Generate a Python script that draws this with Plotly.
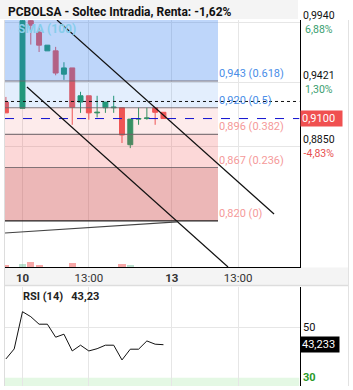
import plotly.graph_objects as go

# ---------------- data ----------------
slots  = [0, 2, 3, 4, 5, 6, 7, 8, 9, 10, 11, 12, 13, 14, 15, 16, 17, 18, 19]
opens  = [0.9245, 0.9190, 0.9960, 0.9860, 0.9695, 0.9695, 0.9490, 0.9545, 0.9245, 0.9300,
          0.9150, 0.9195, 0.9195, 0.9195, 0.8870, 0.9095, 0.9100, 0.9195, 0.9155]
highs  = [0.9290, 0.9980, 0.9966, 0.9895, 0.9745, 0.9730, 0.9595, 0.9545, 0.9335, 0.9300,
          0.9300, 0.9245, 0.9300, 0.9195, 0.9095, 0.9195, 0.9195, 0.9195, 0.9155]
lows   = [0.9150, 0.9190, 0.9750, 0.9685, 0.9695, 0.9480, 0.9440, 0.9045, 0.9150, 0.9090,
          0.9110, 0.9150, 0.9150, 0.8885, 0.8840, 0.9045, 0.9090, 0.9045, 0.9100]
closes = [0.9150, 0.9960, 0.9920, 0.9745, 0.9745, 0.9500, 0.9545, 0.9200, 0.9300, 0.9150,
          0.9155, 0.9245, 0.9200, 0.8955, 0.9095, 0.9100, 0.9105, 0.9155, 0.9100]
volumes = [30, 48, 80, 28, 2, 4, 3, 64, 3, 3, 1, 2, 1, 50, 32, 2, 1, 4, 6]

rsi_slots = list(range(0, 20))
rsi_values = [37.5, 41.5, 56.4, 54.4, 51.4, 51.4, 46.2, 47.4, 40.7, 43.0,
              40.7, 41.6, 43.0, 43.0, 37.1, 41.4, 41.4, 44.7, 43.4, 43.2]

x_tick_slots = [2, 10, 20, 28]
x_tick_labels = ["<b>10</b>", "13:00", "<b>13</b>", "13:00"]

price_levels = [0.9940, 0.9421, 0.8850]
price_labels = ["0,9940", "0,9421", "0,8850"]
pct_labels = ["6,88%", "1,30%", "-4,83%"]

last_price = 0.9100
last_label = "0,9100"
prev_close = 0.9250

fib_low, fib_high = 0.8200, 1.0190
fib_ratios = [1.0, 0.618, 0.5, 0.382, 0.236, 0.0]
fib_labels = ["", "0,943 (0.618)", "0,920 (0.5)", "0,896 (0.382)", "0,867 (0.236)", "0,820 (0)"]
fib_end_slot = 25.58

channel_upper = ([6.16, 32.34], [0.9966, 0.8261])
channel_lower = ([2.54, 26.79], [0.9377, 0.7795])
support_line = ([-0.11, 20.64], [0.8094, 0.8191])

rsi_last = 43.233
rsi_levels = [50, 30]

# ---------------- layout helpers ----------------
W, H = 353, 390
def px(x):
    return x / W
def py(y):
    return 1 - y / H

x_range = [-0.11, 35.41]
y_range = [0.77951, 0.99662]
rsi_range = [26.68, 66.28]

GREEN = "#239b69"
RED = "#f05858"
FONT = "Roboto"

fig = go.Figure()

# volume
vol_colors = ["rgba(60,170,120,0.35)" if c >= o else "rgba(240,80,80,0.5)" for o, c in zip(opens, closes)]
fig.add_trace(go.Bar(x=slots, y=volumes, marker=dict(color=vol_colors, line=dict(width=0)),
                     width=0.85, yaxis="y3", xaxis="x", hoverinfo="skip", showlegend=False))

fig.add_trace(go.Candlestick(
    x=slots, open=opens, high=highs, low=lows, close=closes,
    increasing=dict(line=dict(color=GREEN, width=1), fillcolor=GREEN),
    decreasing=dict(line=dict(color=RED, width=1), fillcolor=RED),
    whiskerwidth=0, xaxis="x", yaxis="y", showlegend=False, hoverinfo="skip"))

fig.add_trace(go.Scatter(x=rsi_slots, y=rsi_values, mode="lines",
                         line=dict(color="#111111", width=1), xaxis="x2", yaxis="y2",
                         showlegend=False, hoverinfo="skip"))

shapes = []
# background bands
shapes.append(dict(type="rect", xref="paper", yref="paper", x0=0, x1=px(298), y0=py(19), y1=1,
                   fillcolor="#f4f4f4", line=dict(width=0), layer="below"))
shapes.append(dict(type="rect", xref="paper", yref="paper", x0=px(5), x1=px(349), y0=py(285), y1=py(267.5),
                   fillcolor="#f4f4f4", line=dict(width=0), layer="below"))
shapes.append(dict(type="line", xref="paper", yref="paper", x0=px(5), x1=px(349), y0=py(285.5), y1=py(285.5),
                   line=dict(color="#dddddd", width=1.5)))
# RSI oversold band
shapes.append(dict(type="rect", xref="x2", yref="y2", x0=x_range[0], x1=x_range[1], y0=rsi_range[0], y1=30,
                   fillcolor="#e4f8e4", line=dict(width=0), layer="below"))

# fib overlay bands
fib_prices = [fib_low + r * (fib_high - fib_low) for r in fib_ratios]
band_fills = ["rgba(40,120,240,0.30)", "rgba(40,120,240,0.13)", "rgba(240,60,60,0.10)",
              "rgba(240,60,60,0.20)", "rgba(200,50,50,0.35)"]
for i, fc in enumerate(band_fills):
    shapes.append(dict(type="rect", xref="x", yref="y", x0=x_range[0], x1=fib_end_slot,
                       y0=fib_prices[i + 1], y1=fib_prices[i], fillcolor=fc,
                       line=dict(width=0), layer="above"))
for i in range(1, len(fib_prices)):
    col = "#222222" if fib_ratios[i] == 0 else "rgba(110,100,105,0.85)"
    shapes.append(dict(type="line", xref="x", yref="y", x0=x_range[0], x1=fib_end_slot,
                       y0=fib_prices[i], y1=fib_prices[i], line=dict(color=col, width=1.2), layer="above"))

# previous close dotted and last price dashed
shapes.append(dict(type="line", xref="x", yref="y", x0=x_range[0], x1=x_range[1], y0=prev_close, y1=prev_close,
                   line=dict(color="#111111", width=1, dash="dot"), layer="above"))
shapes.append(dict(type="line", xref="x", yref="y", x0=x_range[0], x1=x_range[1], y0=last_price, y1=last_price,
                   line=dict(color="#1010d0", width=1, dash="dash"), layer="above"))

# trend lines
for (xs, ys), col in [(channel_upper, "#111111"), (channel_lower, "#111111"), (support_line, "#444444")]:
    shapes.append(dict(type="line", xref="x", yref="y", x0=xs[0], x1=xs[1], y0=ys[0], y1=ys[1],
                       line=dict(color=col, width=1.2), layer="above"))

# borders
shapes.append(dict(type="line", xref="paper", yref="paper", x0=px(4.5), x1=px(4.5), y0=py(386), y1=py(20),
                   line=dict(color="#dddddd", width=1)))
shapes.append(dict(type="line", xref="paper", yref="paper", x0=px(348.5), x1=px(348.5), y0=py(386), y1=py(20),
                   line=dict(color="#e2e2e2", width=1)))

annotations = []
annotations.append(dict(xref="paper", yref="paper", x=px(6), y=py(12), xanchor="left", yanchor="middle",
                        text="<b>PCBOLSA - Soltec Intradia, Renta: -1,62%</b>", showarrow=False,
                        font=dict(family=FONT, size=12, color="#111111")))
annotations.append(dict(xref="paper", yref="paper", x=px(47), y=py(29), xanchor="center", yanchor="middle",
                        text="<b>SMA (100)</b>", showarrow=False,
                        font=dict(family=FONT, size=12, color="#86cdea")))
for i in range(1, len(fib_prices)):
    col = "#4a8ee8" if fib_ratios[i] >= 0.5 else "#f59a9a"
    annotations.append(dict(xref="x", yref="y", x=fib_end_slot, y=fib_prices[i], xanchor="left", yanchor="bottom",
                            text=fib_labels[i], showarrow=False, xshift=-1, yshift=-1,
                            font=dict(family=FONT, size=11, color=col)))
for lvl, lab, pct in zip(price_levels, price_labels, pct_labels):
    pcol = "#e85050" if pct.startswith("-") else "#3a9e70"
    annotations.append(dict(xref="paper", yref="y", x=px(301), y=lvl, xanchor="left", yanchor="middle",
                            text=f"{lab}<br><span style='color:{pcol}'>{pct}</span>", showarrow=False,
                            font=dict(family=FONT, size=10.5, color="#111111")))
annotations.append(dict(xref="paper", yref="y", x=px(300), y=last_price, xanchor="left", yanchor="middle",
                        text=last_label + "&nbsp;&nbsp;", showarrow=False, bgcolor="#f05050", borderpad=1,
                        font=dict(family=FONT, size=11, color="white")))
annotations.append(dict(xref="paper", yref="paper", x=px(21), y=py(296), xanchor="left", yanchor="middle",
                        text="<b>RSI (14)</b>&nbsp;&nbsp;&nbsp;<b>43,23</b>", showarrow=False,
                        font=dict(family=FONT, size=11, color="#222222")))
for lvl, col in zip(rsi_levels, ["#111111", "#2a9a2a"]):
    annotations.append(dict(xref="paper", yref="y2", x=px(301), y=lvl, xanchor="left", yanchor="middle",
                            text=f"<b>{lvl}</b>" if lvl == 30 else str(lvl), showarrow=False,
                            font=dict(family=FONT, size=11, color=col)))
annotations.append(dict(xref="paper", yref="y2", x=px(300), y=rsi_last, xanchor="left", yanchor="middle",
                        text="43,233&nbsp;", showarrow=False, bgcolor="#000000", borderpad=1,
                        font=dict(family=FONT, size=11, color="white")))

fig.update_layout(
    width=W, height=H, margin=dict(l=0, r=0, t=0, b=0),
    paper_bgcolor="white", plot_bgcolor="white",
    font=dict(family=FONT, size=11, color="#222222"),
    boxgap=0.15, bargap=0,
    xaxis=dict(domain=[px(5), px(299.5)], range=x_range, anchor="y",
               tickvals=x_tick_slots, ticktext=x_tick_labels, ticks="", ticklen=0,
               tickfont=dict(family=FONT, size=11.5, color="#333333"),
               showgrid=True, gridcolor="#e6e6e6", gridwidth=1, zeroline=False,
               showline=True, linecolor="#000000", linewidth=1.2,
               rangeslider=dict(visible=False), fixedrange=True),
    yaxis=dict(domain=[py(267), py(20)], range=y_range, side="right", anchor="x",
               tickvals=price_levels, showticklabels=False, ticks="",
               showgrid=True, gridcolor="#e6e6e6", zeroline=False,
               showline=True, linecolor="#000000", linewidth=1.2, fixedrange=True),
    yaxis3=dict(overlaying="y", range=[0, 4000], visible=False, fixedrange=True),
    xaxis2=dict(domain=[px(5), px(299.5)], range=x_range, anchor="y2",
                tickvals=x_tick_slots, showticklabels=False, ticks="",
                showgrid=True, gridcolor="#e6e6e6", zeroline=False, showline=False, fixedrange=True),
    yaxis2=dict(domain=[py(386), py(287)], range=rsi_range, side="right", anchor="x2",
                tickvals=[50], showticklabels=False, ticks="",
                showgrid=True, gridcolor="#e6e6e6", zeroline=False,
                showline=True, linecolor="#000000", linewidth=1.2, fixedrange=True),
    shapes=shapes, annotations=annotations, showlegend=False,
)

fig.write_html("out.html")
